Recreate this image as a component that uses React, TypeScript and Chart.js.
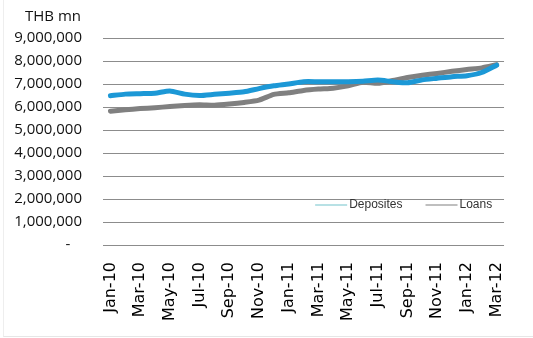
import React, { useEffect, useRef } from "react";
import { Chart, registerables } from "chart.js";

Chart.register(...registerables);

const months: string[] = [
  "Jan-10", "Feb-10", "Mar-10", "Apr-10", "May-10", "Jun-10", "Jul-10", "Aug-10", "Sep-10", "Oct-10", "Nov-10", "Dec-10",
  "Jan-11", "Feb-11", "Mar-11", "Apr-11", "May-11", "Jun-11", "Jul-11", "Aug-11", "Sep-11", "Oct-11", "Nov-11", "Dec-11",
  "Jan-12", "Feb-12", "Mar-12",
];

const deposits: number[] = [
  6490000, 6560000, 6580000, 6600000, 6700000, 6560000, 6500000, 6550000, 6600000, 6660000, 6800000, 6920000,
  7000000, 7100000, 7100000, 7100000, 7100000, 7120000, 7170000, 7100000, 7050000, 7180000, 7250000, 7320000,
  7360000, 7500000, 7820000,
];

const loans: number[] = [
  5820000, 5880000, 5930000, 5970000, 6020000, 6070000, 6100000, 6080000, 6130000, 6200000, 6300000, 6550000,
  6620000, 6720000, 6780000, 6820000, 6920000, 7080000, 7030000, 7150000, 7280000, 7380000, 7460000, 7550000,
  7630000, 7700000, 7840000,
];

const seriesNames = ["Deposites", "Loans"];
const seriesColors = ["rgb(28,152,214)", "rgb(128,128,128)"];
const legendColors = ["rgb(160,215,220)", "rgb(170,170,170)"];
const unitLabel = "THB mn";

const Y_FONT = "'Open Sans', sans-serif";

const overlayPlugin = {
  id: "overlay",
  afterDraw(chart: any) {
    const { ctx, chartArea, scales } = chart;
    ctx.save();
    ctx.font = `15px ${Y_FONT}`;
    ctx.fillStyle = "#111";
    ctx.textAlign = "right";
    ctx.textBaseline = "middle";
    ctx.fillText(unitLabel, scales.y.right - 22, chartArea.top - 21);

    const w = chartArea.right - chartArea.left;
    const h = chartArea.bottom - chartArea.top;
    let x = chartArea.left + 0.529 * w;
    const y = chartArea.top + 0.807 * h;
    ctx.font = "12px 'Liberation Sans', Arial, sans-serif";
    ctx.textAlign = "left";
    seriesNames.forEach((name, i) => {
      ctx.strokeStyle = legendColors[i];
      ctx.lineWidth = 1.5;
      ctx.beginPath();
      ctx.moveTo(x, y);
      ctx.lineTo(x + 32, y);
      ctx.stroke();
      x += 34;
      ctx.fillStyle = "#333";
      ctx.fillText(name, x, y);
      x += ctx.measureText(name).width + 23;
    });
    ctx.restore();
  },
};

export default function App() {
  const ref = useRef<HTMLCanvasElement | null>(null);

  useEffect(() => {
    document.body.style.margin = "0";
    if (!ref.current) return;
    const chart = new Chart(ref.current, {
      type: "line",
      data: {
        labels: months,
        datasets: [
          {
            label: seriesNames[0],
            data: deposits,
            borderColor: seriesColors[0],
            backgroundColor: seriesColors[0],
            borderWidth: 5,
            pointRadius: 0,
            tension: 0.2,
            borderCapStyle: "round",
            borderJoinStyle: "round",
          },
          {
            label: seriesNames[1],
            data: loans,
            borderColor: seriesColors[1],
            backgroundColor: seriesColors[1],
            borderWidth: 5,
            pointRadius: 0,
            tension: 0.2,
            borderCapStyle: "round",
            borderJoinStyle: "round",
          },
        ],
      },
      options: {
        animation: false,
        responsive: false,
        layout: { padding: { top: 38, right: 10, left: 0, bottom: 0 } },
        plugins: {
          legend: { display: false },
          tooltip: { enabled: false },
          title: { display: false },
        },
        scales: {
          x: {
            offset: true,
            grid: { display: false, drawTicks: false },
            border: { display: false },
            afterFit: (scale: any) => {
              scale.height = 93;
            },
            ticks: {
              autoSkip: false,
              minRotation: 90,
              maxRotation: 90,
              padding: 17,
              color: "#000",
              font: { family: "'DejaVu Sans', sans-serif", size: 16 },
              callback: (_v: any, idx: number) => (idx % 2 === 0 ? months[idx] : ""),
            },
          },
          y: {
            min: 0,
            max: 9000000,
            grid: { color: "#8c8c8c", lineWidth: 1, drawTicks: false },
            border: { display: false },
            afterFit: (scale: any) => {
              scale.width = 103;
            },
            ticks: {
              stepSize: 1000000,
              padding: 21,
              color: "#111",
              font: { family: Y_FONT, size: 15 },
              callback: (v: any) => (Number(v) === 0 ? "-   " : Number(v).toLocaleString("en-US")),
            },
          },
        },
      },
      plugins: [overlayPlugin],
    });
    return () => chart.destroy();
  }, []);

  return (
    <div
      style={{
        position: "relative",
        width: 533,
        height: 338,
        background: "#fff",
      }}
    >
      <div
        style={{
          position: "absolute",
          left: 3,
          top: 0,
          width: 530,
          height: 336,
          borderLeft: "1px solid #eeeeee",
          borderBottom: "1px solid #e6e6e6",
          pointerEvents: "none",
        }}
      />
      <canvas ref={ref} width={533} height={338} style={{ position: "absolute", left: 0, top: 0 }} />
    </div>
  );
}
